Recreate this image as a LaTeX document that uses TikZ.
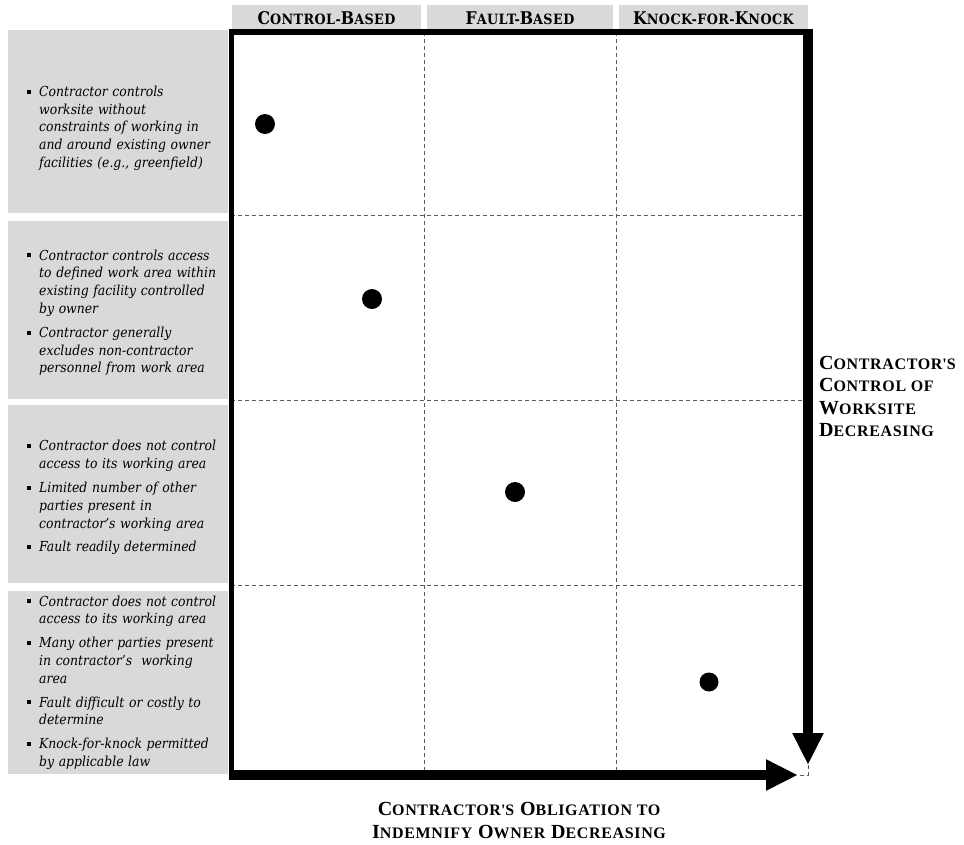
\documentclass[tikz,border=0pt]{standalone}
\usepackage{fontspec}
\setmainfont{DejaVu Serif Condensed}
\newfontfamily\axisfont[LetterSpace=4]{Liberation Serif}
\usetikzlibrary{arrows.meta,positioning}
\definecolor{panelgray}{RGB}{217,217,217}
\definecolor{gridgray}{RGB}{90,90,90}
\newcommand\hcap[2]{{\fontsize{17.5}{20}\selectfont #1}{\fontsize{14.2}{20}\selectfont #2}}
\newcommand\acap[2]{{\fontsize{20}{22.5}\selectfont #1}{\fontsize{16}{22.5}\selectfont #2}}
\newenvironment{pointlist}{\begin{list}{\raisebox{2.7pt}{\rule{4pt}{4pt}}}{%
  \setlength\leftmargin{12pt}\setlength\labelwidth{4pt}\setlength\labelsep{8pt}%
  \setlength\itemsep{6pt}\setlength\parsep{0pt}\setlength\topsep{0pt}\setlength\partopsep{0pt}}}{\end{list}}

\begin{document}
\begin{tikzpicture}[
      x=1pt,y=-1pt,
      panel/.style={fill=panelgray},
      head/.style={fill=panelgray, minimum width=189pt, minimum height=24pt, inner sep=0pt,
        text height=15pt, text depth=0pt, font=\bfseries\addfontfeatures{LetterSpace=3}},
      note/.style={anchor=west, text width=215pt, inner sep=0pt, align=left,
        font=\itshape\fontsize{13.8}{17.8}\selectfont},
      axislabel/.style={font=\axisfont\bfseries\fontsize{20}{22.5}\selectfont, inner sep=0pt},
      griddash/.style={draw=gridgray, line width=0.8pt, dash pattern=on 4pt off 3pt},
      dot/.style={circle, fill=black, minimum size=20pt, inner sep=0pt},
      axis/.style={line width=10pt, -{Triangle[length=32pt,width=29pt]}}
    ]
      \useasboundingbox (0,0) rectangle (964,844);
      \fill[panel] (8,30) rectangle (228,213);
      \fill[panel] (8,221) rectangle (228,399);
      \fill[panel] (8,405) rectangle (228,583);
      \fill[panel] (8,591) rectangle (228,774);
      \node[head] (hcontrol) at (326.5,17) {\hcap{C}{ONTROL-}\hcap{B}{ASED}};
      \node[head, minimum width=186pt] (hfault) at (520,17) {\hcap{F}{AULT-}\hcap{B}{ASED}};
      \node[head] (hknock) at (713.5,17) {\hcap{K}{NOCK-FOR-}\hcap{K}{NOCK}};
      \foreach \x in {424,616} \draw[griddash] (\x,32) -- (\x,775);
      \foreach \y in {215,400,585} \draw[griddash] (231,\y) -- (808,\y);
      \draw[griddash] (808,765) -- (808,775) -- (798,775);
      \draw[line width=6.5pt] (229,32) -- (813,32);
      \draw[line width=5pt] (231.5,29) -- (231.5,780);
      \draw[axis] (229,775) -- (798,775);
      \draw[axis] (808,29) -- (808,765);
      \node[note] (noteA) at (27,124.5) {\begin{pointlist}
        \item Contractor controls\\ worksite without\\ constraints of working in\\ and around existing owner\\ facilities (e.g., greenfield)
        \end{pointlist}};
      \node[note] (noteB) at (27,309) {\begin{pointlist}
        \item Contractor controls access\\ to defined work area within\\ existing facility controlled\\ by owner
        \item Contractor generally\\ excludes non-contractor\\ personnel from work area
        \end{pointlist}};
      \node[note] (noteC) at (27,494) {\begin{pointlist}
        \item Contractor does not control\\ access to its working area
        \item Limited number of other\\ parties present in\\ contractor’s working area
        \item Fault readily determined
        \end{pointlist}};
      \node[note] (noteD) at (27,679) {\begin{pointlist}
        \item Contractor does not control\\ access to its working area
        \item Many other parties present\\ in contractor’s ~working\\ area
        \item Fault difficult or costly to\\ determine
        \item Knock-for-knock permitted\\ by applicable law
        \end{pointlist}};
      \node[dot] (dotA) at (265,124) {};
      \node[dot] (dotB) at (372,299) {};
      \node[dot] (dotC) at (515,492) {};
      \node[dot, minimum size=19pt] (dotD) at (709,682) {};
      \node[axislabel, anchor=west, align=left] (ylabel) at (819,396.5)
        {\acap{C}{ONTRACTOR\textquotesingle S}\\ \acap{C}{ONTROL OF}\\ \acap{W}{ORKSITE}\\ \acap{D}{ECREASING}};
      \node[axislabel, align=center] (xlabel) at (519,820.5)
        {\acap{C}{ONTRACTOR\textquotesingle S} \acap{O}{BLIGATION TO}\\ \acap{I}{NDEMNIFY} \acap{O}{WNER} \acap{D}{ECREASING}};
    \end{tikzpicture}
\end{document}
